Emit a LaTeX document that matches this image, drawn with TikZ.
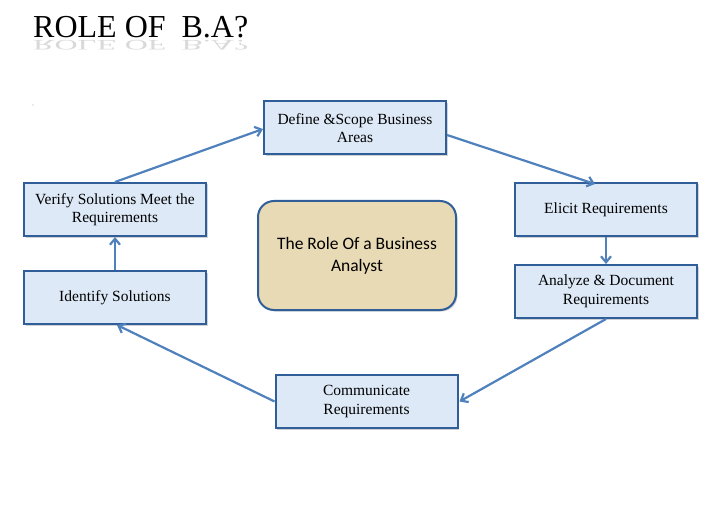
\documentclass[tikz,border=0pt]{standalone}
\usepackage{fontspec}
\setmainfont{Liberation Serif}
\newfontfamily\calib{Carlito}
\usetikzlibrary{arrows.meta,shadows}
\definecolor{boxfill}{HTML}{DDE9F7}
\definecolor{boxline}{HTML}{2F5E99}
\definecolor{arrowc}{HTML}{4F81BD}
\definecolor{beige}{HTML}{E9DAB6}
\begin{document}
\begin{tikzpicture}[x=1pt,y=-1pt,
  rolebox/.style={draw=boxline,line width=2pt,fill=boxfill,minimum width=182pt,minimum height=53pt,
    align=center,inner sep=2pt,font=\fontsize{15.5}{18.5}\selectfont,
    drop shadow={shadow xshift=1.5pt,shadow yshift=-1.5pt,opacity=0.35}},
  flow/.style={draw=arrowc,line width=2.2pt,-{Straight Barb[length=6pt,width=10pt]}}]
\useasboundingbox (0,0) rectangle (720,505);
\fill[white] (0,0) rectangle (720,505);
% title
\node[anchor=base west,inner sep=0pt,font=\fontsize{32}{36}\selectfont] (title) at (33,38) {ROLE OF\ \ B.A?};
\node[anchor=base west,inner sep=0pt,font=\fontsize{32}{36}\selectfont,yscale=-0.45,text=black!15] (refl) at (33,41) {ROLE OF\ \ B.A?};
\fill[gray!60] (33,105) circle (0.6pt);
% boxes
\node[rolebox] (define) at (355,128) {Define \&Scope Business\\Areas};
\node[rolebox] (elicit) at (606,209.5) {Elicit Requirements};
\node[rolebox] (analyze) at (606,291.5) {Analyze \& Document\\Requirements};
\node[rolebox] (comm) at (366.5,401.5) {Communicate\\Requirements};
\node[rolebox] (ident) at (115,297.5) {Identify Solutions};
\node[rolebox] (verify) at (115,209.5) {Verify Solutions Meet the\\Requirements};
\node[draw=boxline,line width=2pt,fill=beige,rounded corners=16pt,minimum width=198pt,minimum height=109pt,
  align=center,font=\calib\fontsize{17.5}{22}\selectfont,
  drop shadow={shadow xshift=1.5pt,shadow yshift=-1.5pt,opacity=0.35}] (center) at (357,255.5) {The Role Of a Business\\Analyst};
% arrows
\draw[flow] (verify.north) -- ([yshift=-1pt]define.west);
\draw[flow] ([yshift=-7pt]define.east) -- ([xshift=-11pt,yshift=-2pt]elicit.north);
\draw[flow] (elicit.south) -- (analyze.north);
\draw[flow] (analyze.south) -- ([xshift=1pt]comm.east);
\draw[flow] (comm.west) -- ([xshift=2pt]ident.south);
\draw[flow] (ident.north) -- (verify.south);
\end{tikzpicture}
\end{document}
